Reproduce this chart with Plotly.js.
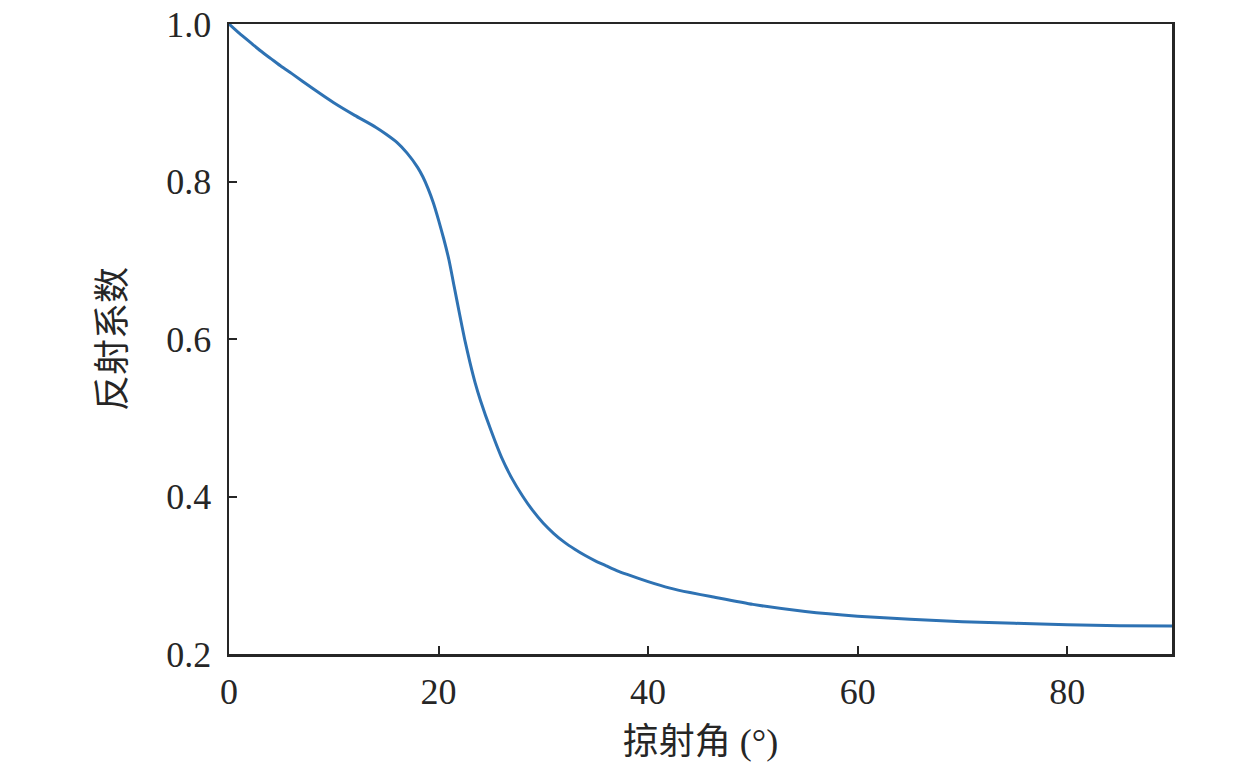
<!DOCTYPE html>
<html>
<head>
<meta charset="utf-8">
<script src="https://cdn.plot.ly/plotly-3.0.1.min.js"></script>
<style>html,body{margin:0;padding:0;background:#fff;}#chart{width:1260px;height:770px;}</style>
</head>
<body>
<div id="chart"></div>
<script>
const grazingAngle = [0, 1, 2, 3, 4, 5, 6, 8, 10, 12, 14, 15, 16, 17, 18, 18.5, 19, 19.5, 20, 20.5, 21, 21.5, 22, 22.5, 23, 23.5, 24, 25, 26, 27, 28, 29, 30, 31, 32, 33, 34, 35, 36, 37, 38, 40, 42, 44, 46, 50, 55, 60, 65, 70, 75, 80, 85, 90];
const reflectionCoef = [1.000, 0.988, 0.977, 0.966, 0.956, 0.946, 0.937, 0.918, 0.900, 0.884, 0.869, 0.860, 0.850, 0.836, 0.818, 0.806, 0.791, 0.773, 0.751, 0.727, 0.700, 0.666, 0.632, 0.599, 0.570, 0.544, 0.522, 0.484, 0.450, 0.423, 0.401, 0.382, 0.366, 0.353, 0.342, 0.333, 0.325, 0.318, 0.312, 0.306, 0.301, 0.292, 0.284, 0.278, 0.273, 0.263, 0.254, 0.248, 0.244, 0.241, 0.239, 0.237, 0.236, 0.2355];
const xTicks = [0, 20, 40, 60, 80];
const yTicks = [0.2, 0.4, 0.6, 0.8, 1.0];
const xTitle = "掠射角 (°)";
const yTitle = "反射系数";

const fontFam = 'Liberation Serif, Times New Roman, Noto Sans CJK SC, serif';
const axisColor = '#262626';

Plotly.newPlot('chart', [{
  x: grazingAngle,
  y: reflectionCoef,
  type: 'scatter',
  mode: 'lines',
  line: {color: '#2E72B3', width: 3, shape: 'spline', smoothing: 0.5},
  showlegend: false
}], {
  width: 1260, height: 770,
  margin: {l: 229, r: 88, t: 24, b: 116},
  paper_bgcolor: '#fff', plot_bgcolor: '#fff',
  font: {family: fontFam, size: 36, color: axisColor},
  xaxis: {
    range: [0, 90], tickvals: xTicks, ticktext: xTicks.map(String),
    ticks: 'inside', ticklen: 8, tickwidth: 2, tickcolor: axisColor,
    ticklabelstandoff: 4,
    showline: true, linecolor: axisColor, linewidth: 2.5, mirror: true,
    showgrid: false, zeroline: false,
    title: {text: xTitle, font: {size: 36}, standoff: 18}
  },
  yaxis: {
    range: [0.2, 1.0], tickvals: yTicks, ticktext: yTicks.map(v => v.toFixed(1)),
    ticks: 'inside', ticklen: 8, tickwidth: 2, tickcolor: axisColor,
    ticklabelstandoff: 8,
    showline: true, linecolor: axisColor, linewidth: 2.5, mirror: true,
    showgrid: false, zeroline: false,
    title: {text: yTitle, font: {size: 36}, standoff: 30}
  }
}, {displayModeBar: false, staticPlot: true});
</script>
</body>
</html>
